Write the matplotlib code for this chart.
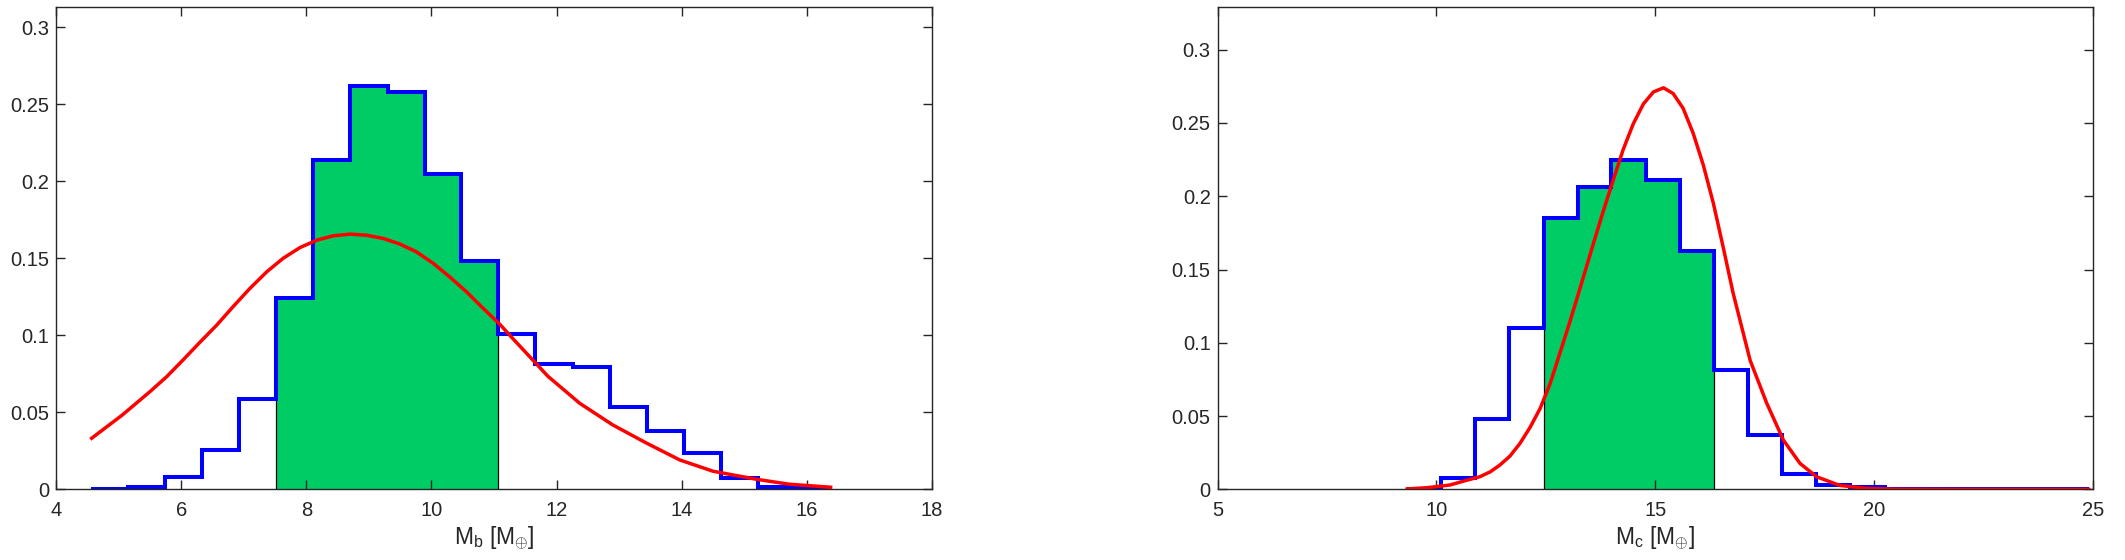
import numpy as np
import matplotlib
matplotlib.use('Agg')
import matplotlib.pyplot as plt

plt.rcParams['font.family'] = ['Liberation Sans', 'DejaVu Sans']
plt.rcParams['mathtext.fontset'] = 'custom'
plt.rcParams['mathtext.rm'] = 'Liberation Sans'
plt.rcParams['mathtext.it'] = 'Liberation Sans:italic'

##########
# DATA   #
##########

# planet b mass histogram
mb_edges = [4.56, 5.15, 5.74, 6.34, 6.93, 7.52, 8.11, 8.70, 9.30, 9.89, 10.48,
            11.07, 11.66, 12.26, 12.85, 13.44, 14.03, 14.62, 15.22, 15.81, 16.40]
mb_freq = [0.0005, 0.0014, 0.0083, 0.0256, 0.0587, 0.124, 0.214, 0.262, 0.258, 0.205,
           0.148, 0.1008, 0.0812, 0.0794, 0.0537, 0.0381, 0.0239, 0.0073, 0.0018, 0.0008]
mb_shade = (5, 11)   # bins inside the shaded interval

mb_fit_x = [4.57, 5.06, 5.50, 5.77, 6.03, 6.30, 6.57, 6.83, 7.10, 7.37, 7.63, 7.90,
            8.17, 8.43, 8.70, 8.96, 9.23, 9.50, 9.76, 10.03, 10.29, 10.56, 10.80,
            11.09, 11.31, 11.62, 11.86, 12.37, 12.90, 13.44, 13.97, 14.50, 15.19,
            15.71, 16.38]
mb_fit_y = [0.0332, 0.0483, 0.0634, 0.0732, 0.0840, 0.0955, 0.1067, 0.1186, 0.1305,
            0.1413, 0.1500, 0.1570, 0.1618, 0.1646, 0.1657, 0.1650, 0.1629, 0.1592,
            0.1542, 0.1467, 0.1380, 0.1283, 0.1186, 0.1073, 0.0975, 0.0840, 0.0735,
            0.0559, 0.0418, 0.0300, 0.0191, 0.0118, 0.0066, 0.0034, 0.0014]

# planet c mass histogram
mc_edges = [9.33, 10.11, 10.89, 11.67, 12.45, 13.23, 14.00, 14.78, 15.56, 16.34, 17.12,
            17.90, 18.68, 19.46, 20.24, 21.02, 21.80, 22.57, 23.35, 24.13, 24.91]
mc_freq = [0.0005, 0.0076, 0.048, 0.1098, 0.1853, 0.2064, 0.2246, 0.211, 0.1626, 0.0814,
           0.037, 0.0104, 0.0027, 0.0018, 0.0, 0.0, 0.0, 0.0, 0.0, 0.0]
mc_shade = (4, 9)

mc_fit_x = [9.33, 9.80, 10.31, 10.60, 10.99, 11.23, 11.45, 11.68, 11.91, 12.14, 12.37,
            12.60, 12.82, 13.05, 13.28, 13.40, 13.59, 13.81, 14.04, 14.27, 14.50, 14.73,
            14.96, 15.19, 15.41, 15.64, 15.87, 16.10, 16.33, 16.56, 16.78, 17.17, 17.55,
            17.93, 18.31, 18.69, 19.22, 19.83, 20.50, 22.00, 24.91]
mc_fit_y = [0.0003, 0.0012, 0.0030, 0.0055, 0.0086, 0.0120, 0.0166, 0.0227, 0.0314,
            0.0423, 0.0552, 0.0723, 0.0928, 0.1143, 0.1370, 0.1490, 0.1680, 0.1895,
            0.2110, 0.2320, 0.2495, 0.2630, 0.2712, 0.2740, 0.2701, 0.2599, 0.2428,
            0.2212, 0.1951, 0.1644, 0.1340, 0.0880, 0.0587, 0.0336, 0.0177, 0.0086,
            0.0027, 0.0007, 0.0001, 0.0, 0.0]

y_ticks = [0, 0.05, 0.1, 0.15, 0.2, 0.25, 0.3]
y_ticklabels = ['0', '0.05', '0.1', '0.15', '0.2', '0.25', '0.3']

##########
# FIGURE #
##########

fig = plt.figure(figsize=(21.25, 5.6), dpi=100)

axB = fig.add_axes([0.02635, 0.12607, 0.41224, 0.86107])
axC = fig.add_axes([0.57299, 0.12607, 0.41186, 0.86107])

green = '#00cc66'
axis_col = '#262626'


def drawPanel(ax, edges, freq, shade, fit_x, fit_y):
    edges = np.array(edges)
    freq = np.array(freq)
    i0, i1 = shade
    ax.stairs(freq[i0:i1], edges[i0:i1 + 1], fill=True, facecolor=green,
              edgecolor='black', linewidth=0.9, zorder=1)
    ax.stairs(freq, edges, color='blue', linewidth=2.9, baseline=None, zorder=2)
    ax.plot(fit_x, fit_y, color='red', linewidth=2.5, zorder=3)


drawPanel(axB, mb_edges, mb_freq, mb_shade, mb_fit_x, mb_fit_y)
drawPanel(axC, mc_edges, mc_freq, mc_shade, mc_fit_x, mc_fit_y)

axB.set_xlim(4, 18)
axB.set_ylim(0, 0.313)
axB.set_xticks(np.arange(4, 19, 2))
axB.set_xlabel(r'M$_{\rm b}$ [M$_{\oplus}$]', fontsize=16.5, color=axis_col, labelpad=3)

axC.set_xlim(5, 25)
axC.set_ylim(0, 0.329)
axC.set_xticks(np.arange(5, 26, 5))
axC.set_xlabel(r'M$_{\rm c}$ [M$_{\oplus}$]', fontsize=16.5, color=axis_col, labelpad=3)

for ax in (axB, axC):
    ax.set_yticks(y_ticks)
    ax.set_yticklabels(y_ticklabels)
    ax.tick_params(direction='in', length=6.5, width=1.0, top=True, right=True,
                   labelsize=14.5, colors=axis_col)
    ax.tick_params(axis='x', pad=8)
    ax.tick_params(axis='y', pad=5)
    for sp in ax.spines.values():
        sp.set_color(axis_col)
        sp.set_linewidth(1.0)

fig.savefig('out.png', dpi=100)
